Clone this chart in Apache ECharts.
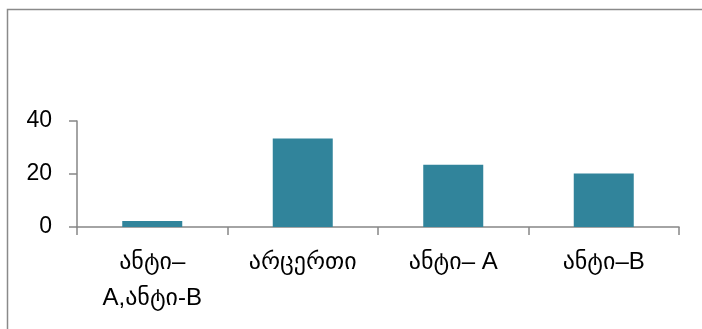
<!DOCTYPE html>
<html>
<head>
<meta charset="utf-8">
<script src="https://cdn.jsdelivr.net/npm/echarts@6/dist/echarts.min.js"></script>
<style>
  html, body { margin: 0; padding: 0; background: #fff; }
  #chart { width: 702px; height: 329px; }
</style>
</head>
<body>
<div id="chart"></div>
<script>
// კატეგორიები და მნიშვნელობები
var categories = ['ანტი–\nA,ანტი-B', 'არცერთი', 'ანტი– A', 'ანტი–B'];
var values = [2.3, 33.4, 23.5, 20.2];
var yTicks = [0, 20, 40];

var myChart = echarts.init(document.getElementById('chart'));
var fontFam = "'Liberation Sans', 'DejaVu Sans', sans-serif";
var axisColor = '#868686';

var option = {
  animation: false,
  backgroundColor: '#fff',
  // ჩარჩო (მხოლოდ ზედა და მარცხენა ხაზი ჩანს)
  graphic: [{
    type: 'polyline',
    shape: { points: [[7.5, 329], [7.5, 9.5], [702, 9.5]] },
    style: { stroke: '#8a8a8a', lineWidth: 1.5, fill: null },
    silent: true
  }],
  grid: {
    left: 77,
    right: 23,
    top: 121,
    bottom: 102,
    containLabel: false
  },
  xAxis: {
    type: 'category',
    data: categories,
    axisLine: { lineStyle: { color: axisColor, width: 1.5 } },
    axisTick: { show: true, length: 8, lineStyle: { color: axisColor, width: 1.5 } },
    axisLabel: {
      color: '#000',
      fontSize: 24,
      fontFamily: fontFam,
      lineHeight: 36,
      margin: 17,
      interval: 0
    }
  },
  yAxis: {
    type: 'value',
    min: yTicks[0],
    max: yTicks[yTicks.length - 1],
    interval: yTicks[1] - yTicks[0],
    splitLine: { show: false },
    axisLine: { show: true, lineStyle: { color: axisColor, width: 1.5 } },
    axisTick: { show: true, length: 8, lineStyle: { color: axisColor, width: 1.5 } },
    axisLabel: {
      color: '#000',
      fontSize: 23,
      fontFamily: fontFam,
      margin: 25
    }
  },
  series: [{
    type: 'bar',
    data: values,
    barWidth: 60,
    itemStyle: { color: '#31849b' }
  }]
};
myChart.setOption(option, true);
</script>
</body>
</html>
